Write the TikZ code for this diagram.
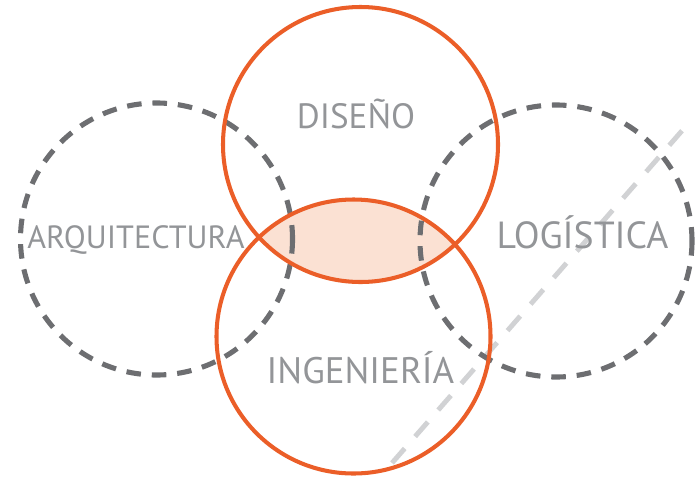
\documentclass[tikz,border=0pt]{standalone}
\usepackage{fontspec}
\setmainfont{PT Sans}
\definecolor{vennorange}{HTML}{EB5E28}
\definecolor{venngray}{HTML}{6D6E71}
\definecolor{venntext}{HTML}{939598}
\definecolor{vennline}{HTML}{D1D2D4}
\definecolor{vennfill}{HTML}{FBE1D3}

\begin{document}
\begin{tikzpicture}[x=0.02cm,y=-0.02cm,
    dashring/.style={draw=venngray,line width=2.9pt,dash pattern=on 8.3pt off 6.2pt},
    solidring/.style={draw=vennorange,line width=2.3pt},
    guideline/.style={draw=vennline,line width=2.8pt,dash pattern=on 11pt off 9pt},
    areatext/.style={text=venntext,anchor=base,inner sep=0pt}]
    \useasboundingbox (0,0) rectangle (696,477);

    % centres of the four fields
    \coordinate (arq) at (156.5,239);
    \coordinate (dis) at (360.5,144.5);
    \coordinate (ing) at (353.5,336.5);
    \coordinate (log) at (556,241);
    \coordinate (lineA) at (392,463);
    \coordinate (lineB) at (687,125);

    \draw[guideline] (lineA) -- (lineB);

    % common part of diseno and ingenieria
    \begin{scope}
        \clip (dis) circle (137.5);
        \fill[vennfill] (ing) circle (137);
    \end{scope}

    \draw[dashring] (arq) circle (136);
    \draw[dashring] (log) circle (136);
    \draw[solidring] (dis) circle (137.5);
    \draw[solidring] (ing) circle (137);

    \node[areatext,font=\fontsize{18.3}{20}\selectfont] (arqtext) at (136,248) {ARQUITECTURA};
    \node[areatext,font=\fontsize{20}{22}\selectfont] (distext) at (356,128) {DISEÑO};
    \node[areatext,font=\fontsize{21.5}{24}\selectfont] (logtext) at (582.5,248) {LOGÍSTICA};
    \node[areatext,font=\fontsize{21}{23}\selectfont] (ingtext) at (360.5,383) {INGENIERÍA};
\end{tikzpicture}
\end{document}
